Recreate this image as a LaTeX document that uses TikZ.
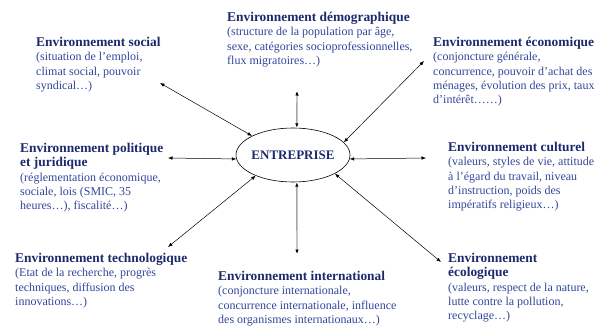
\documentclass[tikz,border=0pt]{standalone}
\usepackage{fontspec}
\setmainfont{Liberation Serif}
\usetikzlibrary{arrows.meta,shapes.geometric}
\definecolor{ttlblue}{HTML}{1C2A6C}
\definecolor{txtblue}{HTML}{33469A}
\newcommand{\envttl}[1]{{\fontsize{13.4}{15}\selectfont\bfseries\color{ttlblue}#1}}
\begin{document}
\begin{tikzpicture}[x=1pt,y=-1pt,
  envtxt/.style={anchor=north west, align=left, inner sep=0pt, text=txtblue, font=\fontsize{12}{14.3}\selectfont},
  link/.style={{Latex[length=4.5pt,width=3.5pt]}-{Latex[length=4.5pt,width=3.5pt]}, line width=0.5pt},
  vlink/.style={{Latex[length=4.5pt,width=3.5pt,color=black]}-{Latex[length=4.5pt,width=3.5pt,color=black]}, line width=1.4pt, gray!70}]
\useasboundingbox (0,0) rectangle (596,329);
\node[ellipse, draw, line width=0.6pt, minimum width=114pt, minimum height=54pt, inner xsep=-8pt, inner ysep=0pt, text=ttlblue, font=\fontsize{13}{15}\selectfont\bfseries] (ent) at (293,155) {ENTREPRISE};
\node[envtxt] (soc) at (36,37) {\envttl{Environnement social}\\(situation de l’emploi,\\climat social, pouvoir\\syndical…)};
\node[envtxt] (demo) at (227,12) {\envttl{Environnement démographique}\\(structure de la population par âge,\\sexe, catégories socioprofessionnelles,\\flux migratoires…)};
\node[envtxt] (eco) at (433,37) {\envttl{Environnement économique}\\(conjoncture générale,\\concurrence, pouvoir d’achat des\\ménages, évolution des prix, taux\\d’intérêt……)};
\node[envtxt] (pol) at (20,143) {\envttl{Environnement politique}\\\envttl{et juridique}\\(réglementation économique,\\sociale, lois (SMIC, 35\\heures…), fiscalité…)};
\node[envtxt] (cult) at (448,142) {\envttl{Environnement culturel}\\(valeurs, styles de vie, attitude\\à l’égard du travail, niveau\\d’instruction, poids des\\impératifs religieux…)};
\node[envtxt] (techno) at (15,253) {\envttl{Environnement technologique}\\(Etat de la recherche, progrès\\techniques, diffusion des\\innovations…)};
\node[envtxt] (inter) at (218,271) {\envttl{Environnement international}\\(conjoncture internationale,\\concurrence internationale, influence\\des organismes internationaux…)};
\node[envtxt] (ecol) at (448,253) {\envttl{Environnement}\\\envttl{écologique}\\(valeurs, respect de la nature,\\lutte contre la pollution,\\recyclage…)};
\coordinate (csoc) at (160,83);
\coordinate (cdemo) at (297,91);
\coordinate (ceco) at (424,61);
\coordinate (cpol) at (168,158);
\coordinate (ccult) at (426,158);
\coordinate (ctechno) at (168,247);
\coordinate (cinter) at (297,254);
\coordinate (cecol) at (441,262);
\draw[link] (csoc) -- (ent.155);
\draw[vlink] (cdemo) -- (ent.82);
\draw[link] (ceco) -- (ent.14);
\draw[link] (cpol) -- (ent.184);
\draw[link] (ccult) -- (ent.-4);
\draw[link] (ctechno) -- (ent.209);
\draw[vlink] (cinter) -- (ent.-82);
\draw[link] (cecol) -- (ent.-24);
\end{tikzpicture}
\end{document}
